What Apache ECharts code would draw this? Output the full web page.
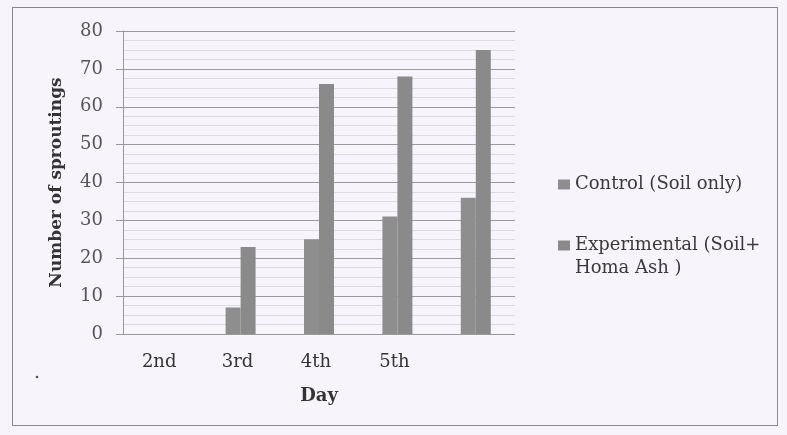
<!DOCTYPE html>
<html><head><meta charset="utf-8">
<script src="https://cdn.jsdelivr.net/npm/echarts@6/dist/echarts.min.js"></script>
<style>
html,body{margin:0;padding:0;background:#f7f5fb;}
#frame{position:absolute;left:12px;top:7px;width:766px;height:419px;border:1px solid #8a8a8a;box-sizing:border-box;}
#c{position:absolute;left:0;top:0;width:787px;height:435px;}
</style></head>
<body>
<div id="frame"></div>
<div id="c"></div>
<script>
const categories = ['2nd', '3rd', '4th', '5th', ''];
const controlValues = [0, 7, 25, 31, 36];
const experimentalValues = [0, 23, 66, 68, 75];
const seriesNames = ['Control (Soil only)', 'Experimental (Soil+\nHoma Ash )'];
const yTicks = [0, 80, 10];

const chart = echarts.init(document.getElementById('c'), null, {renderer: 'canvas'});
const serif = '"DejaVu Serif", "Liberation Serif", serif';
chart.setOption({
  animation: false,
  backgroundColor: 'transparent',
  textStyle: {fontFamily: serif},
  grid: {left: 123, right: 272, top: 31, bottom: 101, containLabel: false},
  legend: {
    orient: 'vertical', left: 553, top: 168,
    itemWidth: 12, itemHeight: 10, itemGap: 15, icon: 'rect',
    formatter: function (name) {
      return name.indexOf('\n') >= 0 ? '\n' + name : name;
    },
    textStyle: {fontFamily: serif, fontSize: 18, color: '#3a3a3a', lineHeight: 23},
    data: seriesNames
  },
  xAxis: {
    type: 'category', data: categories,
    name: 'Day', nameLocation: 'middle', nameGap: 53,
    nameTextStyle: {fontFamily: serif, fontSize: 18, fontWeight: 'bold', color: '#333'},
    axisLine: {show: false}, axisTick: {show: false},
    axisLabel: {fontFamily: serif, fontSize: 18, color: '#333', margin: 19, padding: [0, 6, 0, 0]}
  },
  yAxis: {
    type: 'value', min: yTicks[0], max: yTicks[1], interval: yTicks[2],
    name: 'Number of sproutings', nameLocation: 'middle', nameGap: 58,
    nameTextStyle: {fontFamily: serif, fontSize: 17, fontWeight: 'bold', color: '#333'},
    axisLine: {show: true, lineStyle: {color: '#999', width: 1}},
    axisTick: {show: true, length: 7, lineStyle: {color: '#999'}},
    axisLabel: {fontFamily: serif, fontSize: 18, color: '#555', margin: 20},
    splitLine: {show: true, lineStyle: {color: '#9a9a9a', width: 1}},
    minorTick: {show: false, splitNumber: 4},
    minorSplitLine: {show: true, lineStyle: {color: '#dddae2', width: 1}}
  },
  graphic: [
    {type: 'circle', shape: {cx: 37, cy: 377, r: 1.3}, style: {fill: '#555'}, silent: true}
  ],
  series: [
    {name: seriesNames[0], type: 'bar', data: controlValues, barWidth: 15, barGap: '0%',
     itemStyle: {color: '#8e8e8e'}},
    {name: seriesNames[1], type: 'bar', data: experimentalValues, barWidth: 15,
     itemStyle: {color: '#8a8a8a'}}
  ]
});
</script>
</body></html>
